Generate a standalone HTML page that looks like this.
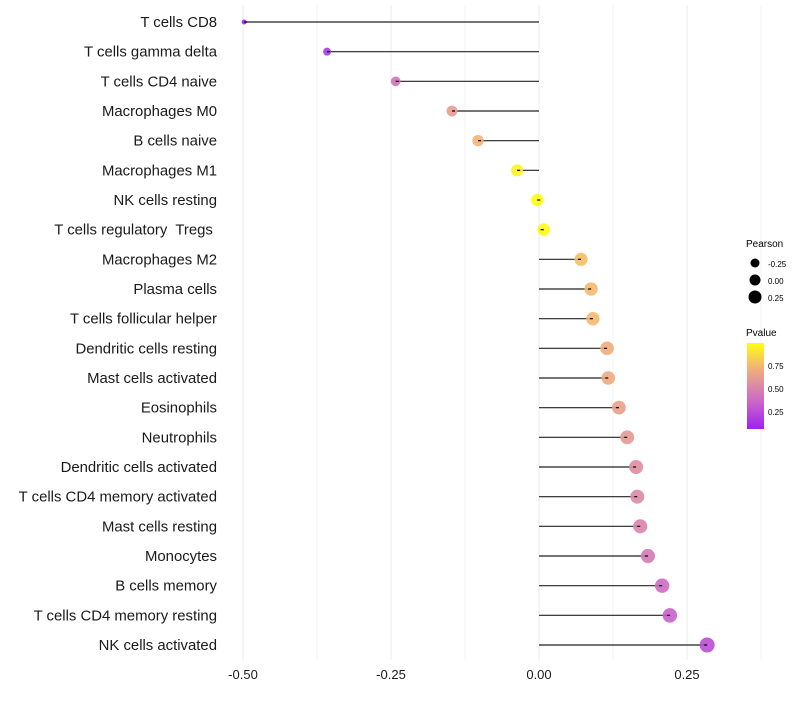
<!DOCTYPE html>
<html><head><meta charset="utf-8"><style>
body{margin:0;background:#fff;font-family:"Liberation Sans",sans-serif}
</style></head><body>
<svg id="chart" width="800" height="700" xmlns="http://www.w3.org/2000/svg">
<defs><linearGradient id="pg" x1="0" y1="1" x2="0" y2="0">
<stop offset="0" stop-color="#a020f0"/><stop offset="0.3" stop-color="#c862cc"/><stop offset="0.5" stop-color="#dc8aa6"/><stop offset="0.72" stop-color="#f2b474"/><stop offset="1" stop-color="#ffff10"/></linearGradient></defs>
<g id="grid"></g><g id="marks"></g><g id="ylabels"></g><g id="xlabels"></g>
<g font-size="10">
<text x="746" y="247">Pearson</text>
<circle cx="755" cy="263" r="4.5" fill="#000"/><text x="768" y="267" font-size="8">-0.25</text>
<circle cx="755" cy="280" r="5.5" fill="#000"/><text x="768" y="284" font-size="8">0.00</text>
<circle cx="755" cy="297" r="6.5" fill="#000"/><text x="768" y="301" font-size="8">0.25</text>
<text x="746" y="336">Pvalue</text>
<rect x="747" y="343" width="17" height="86" fill="url(#pg)"/>
<text x="768" y="369" font-size="8">0.75</text><text x="768" y="392" font-size="8">0.50</text><text x="768" y="415" font-size="8">0.25</text>
</g>
</svg>
<script>
const categories=["T cells CD8","T cells gamma delta","T cells CD4 naive","Macrophages M0","B cells naive","Macrophages M1","NK cells resting","T cells regulatory  Tregs ","Macrophages M2","Plasma cells","T cells follicular helper","Dendritic cells resting","Mast cells activated","Eosinophils","Neutrophils","Dendritic cells activated","T cells CD4 memory activated","Mast cells resting","Monocytes","B cells memory","T cells CD4 memory resting","NK cells activated"];
const pearson=[-0.498,-0.358,-0.242,-0.147,-0.103,-0.037,-0.003,0.008,0.071,0.088,0.091,0.115,0.117,0.135,0.149,0.164,0.166,0.171,0.184,0.208,0.221,0.284];
const pvalue=[0.02,0.1,0.38,0.6,0.72,0.95,1.0,0.98,0.76,0.74,0.74,0.68,0.67,0.62,0.58,0.52,0.5,0.47,0.42,0.35,0.3,0.2];
const xTicks=[-0.5,-0.25,0,0.25];
const xTickLabels=["-0.50","-0.25","0.00","0.25"];
const NS="http://www.w3.org/2000/svg";
const xs=v=>539+v*592;
const ys=i=>22+i*(623/21);
const rs=v=>0.5+Math.sqrt(Math.max(1,32.8+57.7*v));
function lerp(a,b,t){return a.map((x,i)=>Math.round(x+(b[i]-x)*t));}
const stops=[[0,[160,32,240]],[0.3,[200,98,204]],[0.5,[220,138,166]],[0.72,[242,180,116]],[1,[255,255,16]]];
function col(p){for(let i=1;i<stops.length;i++){if(p<=stops[i][0]){const t=(p-stops[i-1][0])/(stops[i][0]-stops[i-1][0]);return "rgb("+lerp(stops[i-1][1],stops[i][1],t).join(",")+")";}}return "rgb(255,255,16)";}
function mk(t,a,parent){const e=document.createElementNS(NS,t);for(const k in a)e.setAttribute(k,a[k]);document.getElementById(parent).appendChild(e);return e;}
for(let v=-0.5;v<=0.376;v+=0.125){const g=mk("line",{x1:xs(v),x2:xs(v),y1:5,y2:660,stroke:"#ebebeb","stroke-width":Math.abs(v*4-Math.round(v*4))<1e-6?1:0.6},"grid");

}
xTicks.forEach((v,i)=>{const t=mk("text",{x:xs(v),y:679,"text-anchor":"middle","font-size":13,fill:"#1a1a1a"},"xlabels");t.textContent=xTickLabels[i];

});
categories.forEach((c,i)=>{
const y=ys(i);
const l=mk("line",{x1:xs(0),x2:xs(pearson[i]),y1:y,y2:y,stroke:"#222","stroke-width":1.2},"marks");


const p=mk("circle",{cx:xs(pearson[i]),cy:y,r:rs(pearson[i]),fill:col(pvalue[i]),"fill-opacity":0.9},"marks");


const s=mk("line",{x1:xs(pearson[i]),x2:xs(pearson[i])+(pearson[i]<0?3:-3),y1:y,y2:y,stroke:"#000","stroke-width":1.2},"marks");


const t=mk("text",{x:217,y:y+5,"text-anchor":"end","font-size":14.9,fill:"#1a1a1a"},"ylabels");t.textContent=c;
t.setAttribute('style','white-space:pre');


});
</script>
</body></html>
